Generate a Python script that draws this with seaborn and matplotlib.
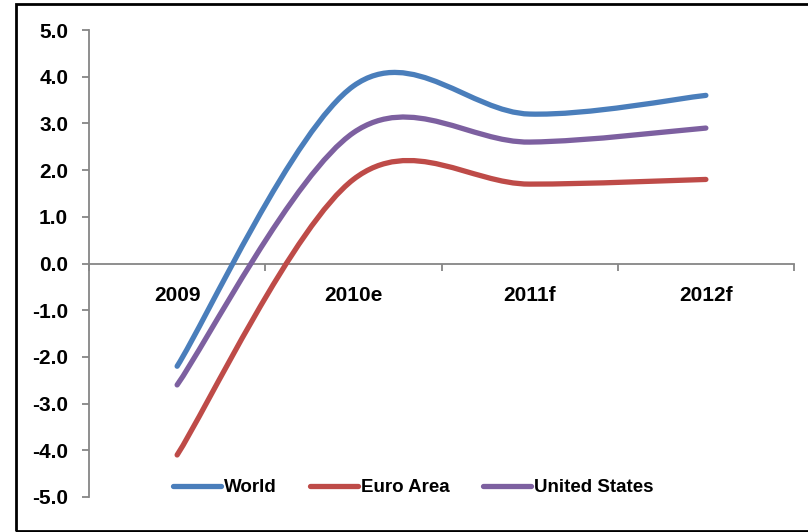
import numpy as np
import matplotlib
matplotlib.use("Agg")
import matplotlib.pyplot as plt
import seaborn as sns
from matplotlib.path import Path
from matplotlib.patches import PathPatch, Rectangle
from matplotlib.lines import Line2D

# Data (GDP growth, %)
years = ["2009", "2010e", "2011f", "2012f"]
world = [-2.2, 3.8, 3.2, 3.6]
euro_area = [-4.1, 1.8, 1.7, 1.8]
united_states = [-2.6, 2.8, 2.6, 2.9]

series_names = ["World", "Euro Area", "United States"]
series_colors = ["#4A7EBB", "#BE4B48", "#7D60A0"]

sns.set_style("white", {"xtick.bottom": True, "ytick.left": True,
                        "text.color": "black", "xtick.color": "black",
                        "ytick.color": "black"})
plt.rcParams["font.family"] = ["Liberation Sans", "DejaVu Sans"]
plt.rcParams["font.weight"] = "bold"


def smooth_path(xs, ys):
    # Excel-style smoothed line: cubic Bezier segments (Catmull-Rom tangents)
    pts = np.column_stack([xs, ys]).astype(float)
    n = len(pts)
    verts = [pts[0]]
    codes = [Path.MOVETO]
    for i in range(n - 1):
        p_prev = pts[i - 1] if i > 0 else pts[i]
        p_next = pts[i + 2] if i + 2 < n else pts[i + 1]
        c1 = pts[i] + (pts[i + 1] - p_prev) / 6.0
        c2 = pts[i + 1] - (p_next - pts[i]) / 6.0
        verts += [c1, c2, pts[i + 1]]
        codes += [Path.CURVE4] * 3
    return Path(verts, codes)


fig = plt.figure(figsize=(8.08, 5.32), dpi=100)
ax = fig.add_axes([89 / 808, 1 - 497 / 532, 705 / 808, 467 / 532])

x = np.arange(len(years))
handles = []
for name, vals, col in zip(series_names, [world, euro_area, united_states], series_colors):
    patch = PathPatch(smooth_path(x, vals), facecolor="none", edgecolor=col,
                      linewidth=3.8, capstyle="round", joinstyle="round", zorder=3)
    ax.add_patch(patch)
    handles.append(Line2D([], [], color=col, linewidth=3.8, solid_capstyle="round", label=name))

ax.set_xlim(-0.5, len(years) - 0.5)
ax.set_ylim(-5, 5)

gray = "#868686"
for s in ["top", "right"]:
    ax.spines[s].set_visible(False)
ax.spines["left"].set_color(gray)
ax.spines["left"].set_linewidth(1.3)
ax.spines["bottom"].set_position(("data", 0))
ax.spines["bottom"].set_color(gray)
ax.spines["bottom"].set_linewidth(1.3)

ax.set_yticks(np.arange(-5, 5.01, 1))
ax.set_yticklabels([f"{v:.1f}" for v in np.arange(-5, 5.01, 1)])
ax.tick_params(axis="y", left=True, length=5, width=1.3, color=gray, labelcolor="black",
               direction="out", pad=10, labelsize=15)
ax.set_xticks(x)
ax.set_xticklabels(years)
ax.tick_params(axis="x", which="major", bottom=True, length=0, pad=16, labelsize=15,
               labelcolor="black")
ax.set_xticks(np.arange(-0.5, len(years), 1), minor=True)
ax.tick_params(axis="x", which="minor", bottom=True, length=5, width=1.3, color=gray,
               direction="out")
for lab in ax.get_xticklabels() + ax.get_yticklabels():
    lab.set_fontweight("bold")

leg = ax.legend(handles=handles, loc="center", bbox_to_anchor=(0.46, 0.02), ncol=3,
                frameon=False, handlelength=2.55, handletextpad=0.2,
                columnspacing=1.75, borderpad=0, borderaxespad=0,
                prop={"weight": "bold", "size": 13.5})
for t in leg.get_texts():
    t.set_color("black")

fig.add_artist(Rectangle((15.5 / 808, 1 - 530.5 / 532), 1.0, (530.5 - 4) / 532,
                         transform=fig.transFigure, fill=False, edgecolor="black",
                         linewidth=2.0))

fig.savefig("out.png", dpi=100)
